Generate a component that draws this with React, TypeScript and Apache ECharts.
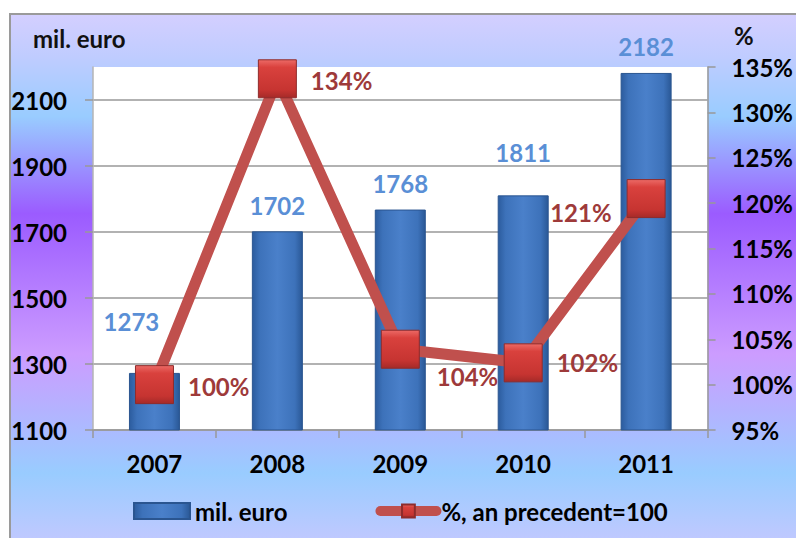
import React, { useEffect, useRef } from 'react';
import * as echarts from 'echarts';

const years = ['2007', '2008', '2009', '2010', '2011'];
const milEuro = [1273, 1702, 1768, 1811, 2182];
const pctPrecedent = [100, 133.7, 103.9, 102.4, 120.5];
const leftTicks = [1100, 1300, 1500, 1700, 1900, 2100];
const seriesNames = ['mil. euro', '%, an precedent=100'];
const leftTitle = 'mil. euro';
const rightTitle = '%';

export default function App() {
  const ref = useRef<HTMLDivElement>(null);
  useEffect(() => {
    const chart = echarts.init(ref.current!, null, { renderer: 'svg' });
    const font = 'Lato';
    const txt = { fontFamily: font, fontWeight: 'bold' as const, fontSize: 24 };

    const barLabelOffsets = [[-23, -25], [0, 0], [0, 0], [0, -17], [0, 0]];
    const lineLabelStyles = [
      { position: 'right', distance: 14, offset: [0, 2] },
      { position: 'right', distance: 14, offset: [0, 2] },
      { position: 'right', distance: 17, offset: [0, 27] },
      { position: 'right', distance: 14, offset: [0, 0] },
      { position: 'left', distance: 15, offset: [0, 14] },
    ];

    const bgGradient = new echarts.graphic.LinearGradient(0, 0, 0, 1, [
      { offset: 0, color: '#D4CFFF' },
      { offset: 0.08, color: '#BFCCFF' },
      { offset: 0.19, color: '#99CCFF' },
      { offset: 0.37, color: '#9B5BFF' },
      { offset: 0.63, color: '#CC9CFF' },
      { offset: 0.85, color: '#99CCFF' },
      { offset: 1, color: '#C8C8FF' },
    ]);

    const barGradient = new echarts.graphic.LinearGradient(0, 0, 1, 0, [
      { offset: 0, color: '#2C5C9E' },
      { offset: 0.15, color: '#3D72BA' },
      { offset: 0.5, color: '#4A80CA' },
      { offset: 0.85, color: '#3D72BA' },
      { offset: 1, color: '#2A5896' },
    ]);

    const markerGradient = new echarts.graphic.LinearGradient(0, 0, 0, 1, [
      { offset: 0, color: '#EC6A66' },
      { offset: 0.2, color: '#D9413D' },
      { offset: 0.8, color: '#C63431' },
      { offset: 1, color: '#A52A28' },
    ]);

    chart.setOption({
      animation: false,
      backgroundColor: '#ffffff',
      graphic: [
        {
          type: 'rect',
          z: -10,
          silent: true,
          shape: { x: 10, y: 14, width: 800, height: 540 },
          style: { fill: bgGradient, stroke: '#9a9a9a', lineWidth: 2 },
        },
      ],
      title: [
        { text: leftTitle, left: 28, top: 21, textStyle: { ...txt, color: '#111' } },
        { text: rightTitle, left: 729, top: 18, textStyle: { ...txt, color: '#111' } },
      ],
      legend: {
        left: 128,
        top: 494,
        itemWidth: 56,
        itemHeight: 16,
        itemGap: 88,
        textStyle: { ...txt, color: '#000' },
        data: [
          { name: seriesNames[0], icon: 'rect' },
          { name: seriesNames[1], lineStyle: { width: 10, cap: 'round' } },
        ],
      },
      grid: {
        left: 93,
        right: 86,
        top: 67,
        bottom: 108,
        show: true,
        backgroundColor: '#ffffff',
        borderWidth: 0,
      },
      xAxis: {
        type: 'category',
        data: years,
        axisLine: { show: true, lineStyle: { color: '#999', width: 1.5 } },
        axisTick: { show: true, length: 8, lineStyle: { color: '#999', width: 1.5 } },
        axisLabel: { ...txt, color: '#000', margin: 21 },
      },
      yAxis: [
        {
          type: 'value',
          min: 1100,
          max: 2200,
          position: 'left',
          axisLine: { show: true, lineStyle: { color: '#b5b5b5', width: 1.5 } },
          axisTick: { show: true, length: 8, customValues: leftTicks, lineStyle: { color: '#999', width: 1.5 } },
          axisLabel: {
            ...txt,
            color: '#000',
            margin: 26,
            customValues: leftTicks,
            formatter: (v: number) => String(v),
          },
          splitLine: { show: true, lineStyle: { color: '#999', width: 1.5 } },
        },
        {
          type: 'value',
          min: 95,
          max: 135,
          interval: 5,
          position: 'right',
          axisLine: { show: true, lineStyle: { color: '#999', width: 1.5 } },
          axisTick: { show: true, length: 8, lineStyle: { color: '#999', width: 1.5 } },
          axisLabel: { ...txt, color: '#000', margin: 24, formatter: '{value}%' },
          splitLine: { show: false },
        },
      ],
      series: [
        {
          name: seriesNames[0],
          type: 'bar',
          yAxisIndex: 0,
          barWidth: 51,
          itemStyle: { color: barGradient, borderColor: '#2A5590', borderWidth: 1 },
          label: {
            show: true,
            position: 'top',
            distance: 14,
            ...txt,
            color: '#5A8FD6',
          },
          data: milEuro.map((v, i) => ({ value: v, label: { offset: barLabelOffsets[i] } })),
        },
        {
          name: seriesNames[1],
          type: 'line',
          yAxisIndex: 1,
          symbol: 'rect',
          symbolSize: 38,
          lineStyle: { color: '#C0504D', width: 11 },
          itemStyle: { color: markerGradient, borderColor: '#8E2B2B', borderWidth: 1 },
          label: {
            show: true,
            ...txt,
            color: '#9E3A3A',
            formatter: (p: any) => Math.round(p.value) + '%',
          },
          data: pctPrecedent.map((v, i) => ({ value: v, label: lineLabelStyles[i] })),
        },
      ],
    });
    return () => chart.dispose();
  }, []);

  return (
    <div
      ref={ref}
      style={{ position: 'fixed', left: 0, top: 0, width: 796, height: 538, background: '#fff' }}
    />
  );
}
